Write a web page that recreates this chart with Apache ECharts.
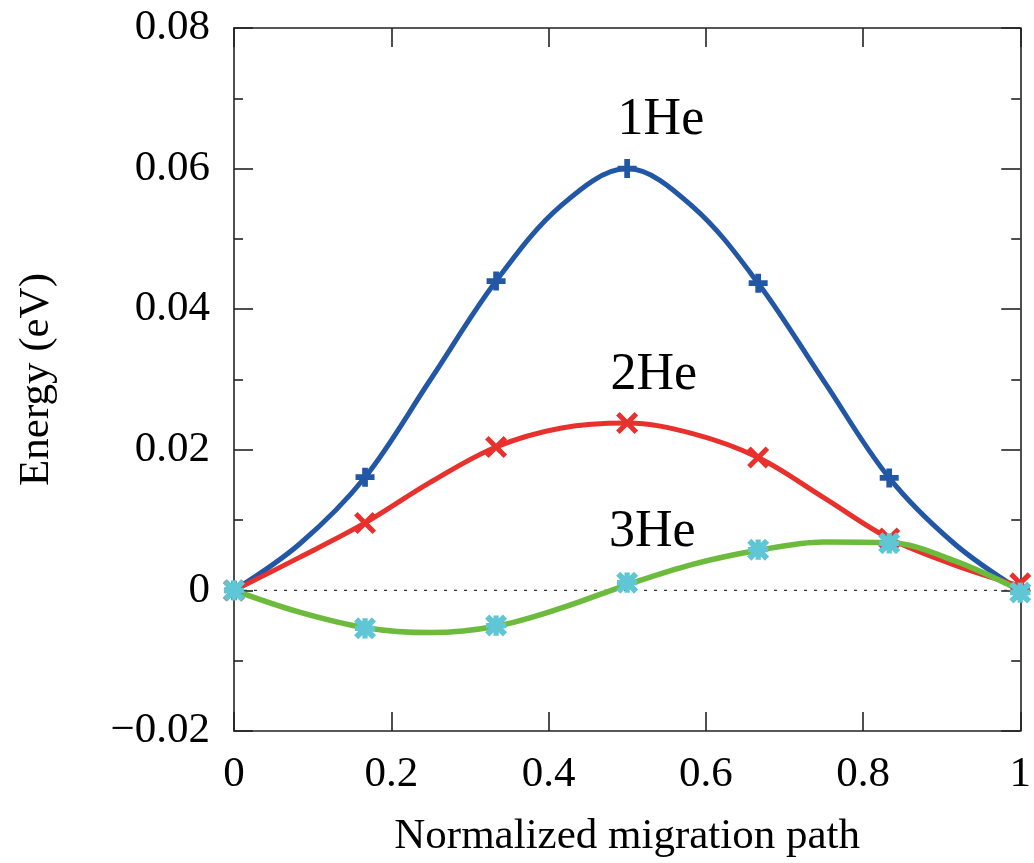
<!DOCTYPE html>
<html>
<head>
<meta charset="utf-8">
<style>
  html, body { margin: 0; padding: 0; background: #ffffff; overflow: hidden; }
  #chart { width: 1034px; height: 863px; }
</style>
<script src="https://cdn.jsdelivr.net/npm/echarts@6/dist/echarts.min.js"></script>
</head>
<body>
<div id="chart"></div>
<script>
// Normalized positions of the NEB images along the migration path
const pathX = [0, 1 / 6, 2 / 6, 3 / 6, 4 / 6, 5 / 6, 1];

// Relative energies (eV) of each image for 1, 2 and 3 He atoms
const energy1He = [0, 0.0161, 0.0440, 0.0600, 0.0437, 0.0160, 0];
const energy2He = [0, 0.0096, 0.0204, 0.0238, 0.0189, 0.0074, 0.0010];
const energy3He = [0, -0.0054, -0.0050, 0.0011, 0.0058, 0.0067, -0.0003];

// Fitted energy curves, sampled every 1/12 of the path
const curveX = [0, 1 / 12, 2 / 12, 3 / 12, 4 / 12, 5 / 12, 6 / 12, 7 / 12, 8 / 12, 9 / 12, 10 / 12, 11 / 12, 1];
const curve1He = [0, 0.0066, 0.0161, 0.0300, 0.0440, 0.0548, 0.0600, 0.0546, 0.0437, 0.0298, 0.0160, 0.0066, 0];
const curve2He = [0, 0.0047, 0.0096, 0.0154, 0.0204, 0.0231, 0.0238, 0.0223, 0.0189, 0.0132, 0.0074, 0.0036, 0.0006];
const curve3He = [0, -0.0031, -0.0053, -0.0060, -0.0051, -0.0025, 0.0008, 0.0037, 0.0057, 0.0069, 0.0068, 0.0042, 0];

// Curve labels and where they sit (x, energy)
const curveNames = ['1He', '2He', '3He'];
const labelX = [0.543, 0.534, 0.532];
const labelY = [0.0668, 0.0306, 0.0082];

// Axis ticks
const xTicks = [0, 0.2, 0.4, 0.6, 0.8, 1];
const yTicks = [-0.02, 0, 0.02, 0.04, 0.06, 0.08];

const colors = { he1: '#2257a6', he2: '#e8312d', he3: '#6cbb3c', he3mark: '#5fc6d5' };
const FONT = '"Liberation Serif", "DejaVu Serif", serif';

// Marker shapes: plus, saltire cross and an eight-armed star
const PLUS = 'path://M3.5,0h3v3.5h3.5v3h-3.5v3.5h-3v-3.5h-3.5v-3h3.5z';
const CROSS = 'path://M0,1.6L1.6,0L5,3.4L8.4,0L10,1.6L6.6,5L10,8.4L8.4,10L5,6.6L1.6,10L0,8.4L3.4,5Z';
const STAR = 'path://M0,1.9L1.9,0L5,3.1L8.1,0L10,1.9L6.9,5L10,8.1L8.1,10L5,6.9L1.9,10L0,8.1L3.1,5Z' +
             'M3.8,0.4h2.4v3.4h3.4v2.4h-3.4v3.4h-2.4v-3.4h-3.4v-2.4h3.4z';

const zip = (xs, ys) => xs.map((x, i) => [x, ys[i]]);

function yFmt(v) {
  if (Math.abs(v) < 1e-12) return '0';
  return (v < 0 ? '\u2212' : '') + Math.abs(v).toFixed(2);
}
const xFmt = (v) => (Math.abs(v - Math.round(v)) < 1e-9 ? String(Math.round(v)) : v.toFixed(1));

const frameLine = { show: true, onZero: false, lineStyle: { color: '#222', width: 1.6 } };
const tickStyle = { color: '#222', width: 1.6 };

const chart = echarts.init(document.getElementById('chart'), null, { renderer: 'canvas', width: 1034, height: 863 });

chart.setOption({
  animation: false,
  backgroundColor: '#ffffff',
  grid: { left: 234, top: 28, width: 788, height: 705, containLabel: false },
  xAxis: [
    {
      type: 'value', min: xTicks[0], max: xTicks[xTicks.length - 1], interval: 0.2,
      position: 'bottom',
      name: 'Normalized migration path', nameLocation: 'middle', nameGap: 84,
      nameTextStyle: { fontFamily: FONT, fontSize: 43, color: '#000' },
      axisLine: frameLine,
      axisTick: { show: true, inside: true, length: 19, lineStyle: tickStyle },
      axisLabel: { fontFamily: FONT, fontSize: 43, color: '#000', margin: 22, formatter: xFmt },
      splitLine: { show: false }
    },
    {
      type: 'value', min: xTicks[0], max: xTicks[xTicks.length - 1], interval: 0.2,
      position: 'top',
      axisLine: frameLine,
      axisTick: { show: true, inside: true, length: 19, lineStyle: tickStyle },
      axisLabel: { show: false },
      splitLine: { show: false }
    }
  ],
  yAxis: [
    {
      type: 'value', min: yTicks[0], max: yTicks[yTicks.length - 1], interval: 0.02,
      position: 'left',
      name: 'Energy (eV)', nameLocation: 'middle', nameGap: 176,
      nameTextStyle: { fontFamily: FONT, fontSize: 43, color: '#000' },
      axisLine: frameLine,
      axisTick: { show: true, inside: true, length: 19, lineStyle: tickStyle },
      minorTick: { show: true, splitNumber: 2, length: 9, lineStyle: tickStyle },
      axisLabel: { fontFamily: FONT, fontSize: 43, color: '#000', margin: 24, formatter: yFmt },
      splitLine: { show: false }
    },
    {
      type: 'value', min: yTicks[0], max: yTicks[yTicks.length - 1], interval: 0.02,
      position: 'right',
      axisLine: frameLine,
      axisTick: { show: true, inside: true, length: 19, lineStyle: tickStyle },
      minorTick: { show: true, splitNumber: 2, length: 9, lineStyle: tickStyle },
      axisLabel: { show: false },
      splitLine: { show: false }
    }
  ],
  series: [
    {
      // zero-energy reference
      type: 'line', name: 'zero', silent: true, symbol: 'none',
      data: [[xTicks[0], 0], [xTicks[xTicks.length - 1], 0]],
      lineStyle: { color: '#333', width: 1.3, type: [3, 7] }, z: 1
    },
    {
      type: 'line', name: '1He fit', data: zip(curveX, curve1He), smooth: 0.35, symbol: 'none',
      lineStyle: { color: colors.he1, width: 5 }, z: 2
    },
    {
      type: 'line', name: '2He fit', data: zip(curveX, curve2He), smooth: 0.35, symbol: 'none',
      lineStyle: { color: colors.he2, width: 5 }, z: 3
    },
    {
      type: 'line', name: '3He fit', data: zip(curveX, curve3He), smooth: 0.35, symbol: 'none',
      lineStyle: { color: colors.he3, width: 5.5 }, z: 4
    },
    {
      type: 'scatter', name: '1He', data: zip(pathX, energy1He), clip: false,
      symbol: PLUS, symbolSize: 19, itemStyle: { color: colors.he1, opacity: 1 }, z: 5
    },
    {
      type: 'scatter', name: '2He', data: zip(pathX, energy2He), clip: false,
      symbol: CROSS, symbolSize: 22, itemStyle: { color: colors.he2, opacity: 1 }, z: 6
    },
    {
      type: 'scatter', name: '3He', data: zip(pathX, energy3He), clip: false,
      symbol: STAR, symbolSize: 22, itemStyle: { color: colors.he3mark, opacity: 1 }, z: 7
    },
    {
      type: 'scatter', name: 'labels', silent: true, symbolSize: 0,
      itemStyle: { opacity: 1 },
      data: curveNames.map((n, i) => ({ name: n, value: [labelX[i], labelY[i]] })),
      label: {
        show: true, position: 'inside', formatter: '{b}',
        fontFamily: FONT, fontSize: 52, color: '#000', opacity: 1, textBorderWidth: 0
      }, z: 8
    }
  ]
});
</script>
</body>
</html>
